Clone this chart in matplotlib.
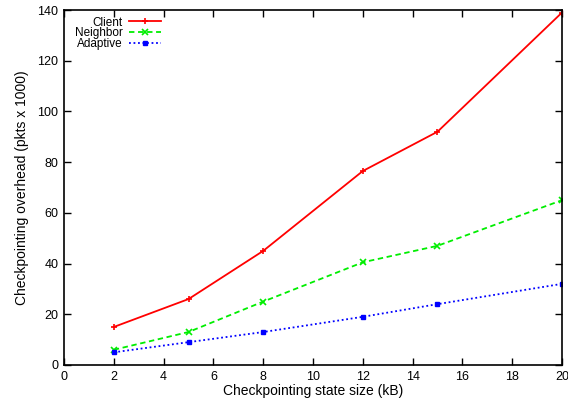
import matplotlib
matplotlib.use("Agg")
import matplotlib.pyplot as plt

plt.rcParams['font.family'] = ['Liberation Sans', 'DejaVu Sans']

x = [2, 5, 8, 12, 15, 20]
client = [15, 26, 45, 76.5, 92, 139]
neighbor = [6, 13, 25, 40.5, 47, 65]
adaptive = [5, 9, 13, 19, 24, 32]

fig = plt.figure(figsize=(5.68, 4.01), dpi=100)
ax = fig.add_axes([0.1127, 0.0898, 0.8767, 0.8852])

ax.plot(x, client, color='#ff0000', lw=1.3, marker='+', ms=5, mew=1.2, label='Client')
ax.plot(x, neighbor, color='#00ee00', lw=1.3, ls=(0, (3, 2)), marker='x', ms=4.5, mew=1.2, label='Neighbor')
ax.plot(x, adaptive, color='#0000ff', lw=1.3, ls=(0, (1, 1.5)), marker='s', ms=3.5, mew=1, label='Adaptive')

ax.set_xlim(0, 20)
ax.set_ylim(0, 140)
ax.set_xticks(range(0, 21, 2))
ax.set_yticks(range(0, 141, 20))
ax.tick_params(direction='in', top=True, right=True, length=5, width=1, labelsize=9, pad=4)
for s in ax.spines.values():
    s.set_linewidth(1.2)

ax.set_xlabel('Checkpointing state size (kB)', fontsize=10, labelpad=1)
ax.set_ylabel('Checkpointing overhead (pkts x 1000)', fontsize=10, labelpad=6)

leg = ax.legend(loc='upper left', bbox_to_anchor=(0.009, 1.0), markerfirst=False, frameon=False,
                fontsize=8.5, handlelength=2.7, handletextpad=0.5, labelspacing=-0.1,
                borderaxespad=0.25, borderpad=0.3)
for t in leg.get_texts():
    t.set_ha('right')

fig.savefig('out.png', dpi=100)
